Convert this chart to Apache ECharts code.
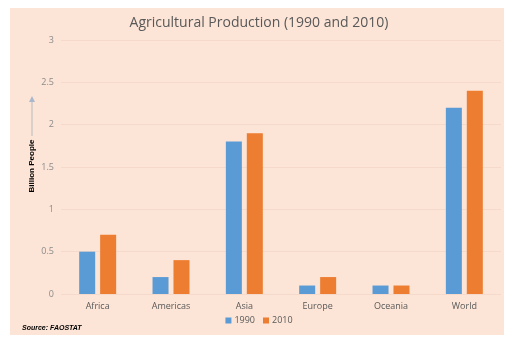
<!DOCTYPE html>
<html><head><meta charset="utf-8">
<script src="https://cdn.jsdelivr.net/npm/echarts@6/dist/echarts.min.js"></script>
<style>html,body{margin:0;padding:0;background:#fff}#c{width:518px;height:345px}</style>
</head><body><div id="c"></div>
<script>
const categories = ['Africa','Americas','Asia','Europe','Oceania','World'];
const values1990 = [0.5, 0.2, 1.8, 0.1, 0.1, 2.2];
const values2010 = [0.7, 0.4, 1.9, 0.2, 0.1, 2.4];
const seriesNames = ['1990','2010'];
const titleText = 'Agricultural Production (1990 and 2010)';
const yAxisTitle = 'Billion People';
const sourceText = 'Source: FAOSTAT';

const chart = echarts.init(document.getElementById('c'), null, {renderer:'canvas'});
const font = '"Open Sans", "Liberation Sans", sans-serif';
chart.setOption({
  backgroundColor: '#ffffff',
  animation: false,
  graphic: [
    {type:'rect', shape:{x:10,y:8,width:494,height:327}, style:{fill:'#fce4d6'}, z:-10, silent:true},
    {type:'line', shape:{x1:32,y1:136,x2:32,y2:100}, style:{stroke:'#d9d0cc',lineWidth:2}, z:5},
    {type:'polygon', shape:{points:[[29,102],[35,102],[32,96]]}, style:{fill:'#a9b8cc'}, z:5},
    {type:'text', x:32, y:166, rotation:Math.PI/2, style:{text:yAxisTitle, font:'bold 8px "Liberation Sans", sans-serif', fill:'#000', align:'center', verticalAlign:'middle'}, z:5},
    {type:'text', x:22, y:328, style:{text:sourceText, font:'italic bold 7px "Liberation Sans", sans-serif', fill:'#000', align:'left', verticalAlign:'middle'}, z:5}
  ],
  title: {text:titleText, left:'center', top:11, textStyle:{fontFamily:font, fontSize:14, fontWeight:'normal', color:'#595959'}},
  legend: {data:seriesNames, bottom:15, left:'center', itemWidth:6, itemHeight:6, itemGap:8, icon:'rect',
    textStyle:{fontFamily:font, fontSize:9, color:'#595959', padding:[0,0,0,-2]}},
  grid: {left:61, right:17, top:40, bottom:51, containLabel:false},
  xAxis: {type:'category', data:categories, axisTick:{show:false}, axisLine:{show:false},
    axisLabel:{fontFamily:font, fontSize:9, color:'#595959', margin:8}},
  yAxis: {type:'value', min:0, max:3, interval:0.5, axisLine:{show:false}, axisTick:{show:false},
    axisLabel:{fontFamily:font, fontSize:9, color:'#8c8c8c', margin:7},
    splitLine:{lineStyle:{color:'#f5dacb', width:1}}},
  series: [
    {name:seriesNames[0], type:'bar', data:values1990, barWidth:16, barGap:'31%', itemStyle:{color:'#5b9bd5'}},
    {name:seriesNames[1], type:'bar', data:values2010, barWidth:16, barGap:'31%', itemStyle:{color:'#ed7d31'}}
  ]
});
</script></body></html>
